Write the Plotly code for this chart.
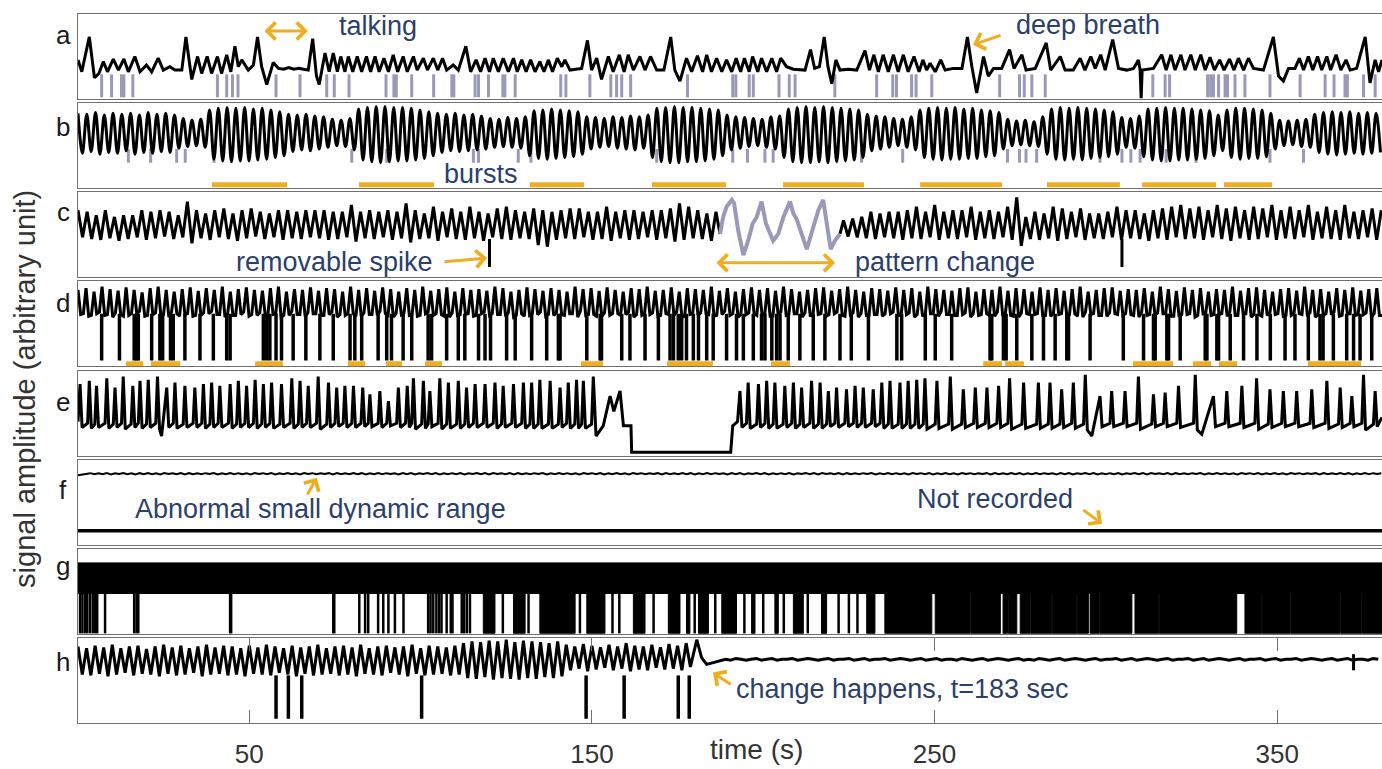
import plotly.graph_objects as go
from plotly.subplots import make_subplots

FONT = "Liberation Sans, Arial, sans-serif"
BLACK = "#000000"
LAVENDER = "#9a9ab8"
ORANGE = "#efae22"
NAVY = "#2c3f6c"
FRAME = "#707070"

XMAX = 380.6
TICKS = [50, 150, 250, 350]
PANEL_LABELS = ["a", "b", "c", "d", "e", "f", "g", "h"]
LABEL_POS = [0.75, 0.72, 0.77, 0.75, 0.63, 0.64, 0.80, 0.72]

# ---------------- panel a : (time, value) vertices ----------------
A_PTS = [
    (0, 46), (1.1, 32), (3.3, 73), (4.8, 25), (6.1, 30), (7.4, 44), (8.6, 32), (10.3, 47), (11.8, 34), (13.4, 47),
    (14.7, 32), (16.6, 50), (18.1, 32), (20.0, 40), (21.5, 32), (23.4, 48), (24.9, 34), (26.8, 38), (28.3, 34), (30.3, 34),
    (31.5, 73), (33.2, 23), (34.9, 50), (36.1, 30), (37.7, 50), (39.0, 30), (40.7, 50), (41.9, 30), (43.4, 52), (44.6, 32),
    (45.8, 62), (46.8, 38), (47.8, 46), (49.7, 34), (51.2, 40), (52.4, 73), (53.6, 38), (55.1, 17), (57.0, 43), (58.5, 36),
    (60.0, 35), (61.5, 37), (63.0, 35), (64.5, 36), (65.8, 35), (67.2, 34), (68.5, 71), (69.6, 27), (70.4, 17), (72.1, 54),
    (73.3, 32), (74.5, 54), (75.7, 32), (76.7, 50), (77.9, 32), (78.9, 50), (80.2, 32), (81.5, 50), (82.8, 32), (84.2, 50),
    (85.4, 32), (86.7, 50), (87.9, 32), (89.3, 48), (90.6, 32), (92.0, 52), (93.3, 32), (94.9, 50), (96.1, 32), (97.9, 50),
    (99.0, 34), (100.8, 48), (102.0, 34), (103.7, 48), (105.0, 34), (106.4, 48), (107.6, 34), (109.5, 40), (111.0, 34), (113.2, 62),
    (114.6, 32), (116.2, 46), (117.5, 32), (118.8, 48), (120.1, 32), (121.2, 48), (122.7, 32), (124.1, 48), (125.6, 32), (127.1, 48),
    (128.2, 32), (129.5, 46), (130.8, 32), (132.1, 46), (133.4, 32), (134.8, 44), (136.0, 32), (137.3, 46), (138.5, 32), (139.9, 48),
    (141.2, 38), (142.1, 46), (143.6, 34), (147.0, 36), (148.7, 69), (149.9, 34), (151.4, 48), (152.8, 23), (154.8, 50), (156.2, 32),
    (158.0, 52), (159.4, 32), (160.6, 52), (162.1, 34), (164.0, 50), (165.5, 34), (167.1, 50), (168.9, 34), (171.0, 34), (173.0, 73),
    (174.2, 34), (175.7, 21), (177.6, 48), (179.1, 32), (180.8, 51), (182.3, 32), (183.5, 52), (184.9, 32), (186.4, 48), (187.9, 32),
    (189.3, 46), (190.8, 32), (192.1, 48), (193.4, 32), (194.5, 48), (195.9, 32), (196.9, 50), (198.4, 32), (199.5, 48), (201.0, 32),
    (202.5, 48), (203.9, 32), (205.1, 48), (206.8, 38), (208.8, 35), (210.7, 34), (212.2, 34), (213.8, 58), (215.0, 36), (216.4, 38),
    (217.8, 73), (218.9, 38), (220.0, 18), (221.2, 46), (222.4, 34), (224.8, 35), (227.3, 34), (229.7, 57), (231.0, 34), (232.3, 52),
    (233.6, 32), (235.0, 52), (236.5, 32), (238.0, 52), (239.4, 32), (240.9, 52), (242.3, 32), (244.0, 50), (245.5, 32), (246.6, 46),
    (247.7, 34), (248.7, 42), (250.2, 32), (251.8, 46), (253.1, 34), (255.5, 36), (258.0, 36), (259.6, 73), (260.9, 38), (262.3, 7),
    (264.3, 50), (265.7, 27), (267.2, 36), (269.6, 36), (271.9, 58), (273.2, 36), (275.5, 52), (276.7, 34), (279.4, 36), (282.6, 66),
    (283.9, 34), (286.7, 50), (288.1, 34), (290.5, 34), (292.5, 48), (293.9, 34), (295.6, 50), (296.9, 36), (298.5, 52), (299.8, 34),
    (302.0, 70), (303.7, 36), (306.1, 34), (308.1, 36), (309.5, 46), (310.0, 34), (310.3, 1), (310.6, 34), (313.9, 36), (316.3, 52),
    (317.6, 34), (319.0, 52), (320.2, 34), (321.9, 52), (323.1, 34), (324.8, 52), (326.1, 34), (327.7, 52), (329.0, 34), (330.4, 49),
    (331.7, 34), (333.2, 46), (334.5, 34), (336.1, 47), (337.4, 34), (338.7, 48), (340.2, 34), (341.6, 48), (343.1, 36), (346.0, 34),
    (348.9, 73), (350.4, 27), (351.8, 21), (353.3, 36), (355.2, 36), (356.5, 48), (357.7, 34), (359.1, 50), (360.4, 34), (361.8, 50),
    (363.0, 34), (364.5, 50), (365.6, 34), (367.2, 52), (368.6, 34), (370.1, 46), (371.3, 34), (373.2, 36), (375.7, 73), (377.1, 19),
    (378.6, 46), (379.6, 32), (380.6, 46),
]
A_GRAY_T = [6.9, 9.8, 12.7, 13.4, 16.0, 40.7, 43.4, 45.1, 46.7, 57.8, 64.8, 72.6, 74.8, 79.1, 89.9, 92.2, 92.9, 97.4,
            103.8, 109.1, 109.7, 115.9, 116.9, 119.8, 124.0, 124.6, 127.6, 140.9, 142.4, 149.4, 155.5, 157.2, 158.7,
            161.3, 177.9, 191.1, 192.0, 195.9, 197.1, 204.6, 207.6, 209.3, 220.9, 233.1, 237.8, 238.9, 243.3, 244.6,
            249.2, 269.0, 274.8, 276.2, 278.4, 282.3, 313.7, 317.3, 318.6, 329.7, 330.6, 331.4, 332.9, 334.8, 335.5,
            337.7, 340.6, 347.9, 356.7, 364.0, 366.6, 369.8, 370.5, 375.2, 378.6]
A_GRAY_RANGE = (29, 2)

# ---------------- panel b : alternating peak / trough every B_HALF s ----------------
B_HALF = 1.28
B_V = [
    88, 41, 87, 43, 89, 40, 86, 42, 88, 41, 87, 44, 88, 40, 86, 42, 89, 41, 87, 43, 88, 42, 86,
    47, 82, 49, 80, 50, 81, 48,
    92, 34, 94, 32, 95, 31, 94, 32, 95, 32, 93, 33, 94, 34, 92, 36, 90, 38,
    87, 43, 86, 45, 87, 44, 85, 46, 84,
    48, 81, 50, 80, 49, 82, 45,
    93, 33, 95, 31, 96, 30, 96, 31, 95, 32, 95, 32, 94, 33, 92, 35, 90, 38,
    88, 42, 87, 44, 88, 43, 86, 44, 87, 45, 85, 46,
    82, 48, 81, 49, 83, 48, 82, 47, 84,
    38, 91, 35, 92, 34, 93, 35, 92, 36, 91, 37, 90, 40,
    84, 46, 83, 48, 82, 49, 84, 47, 83, 46, 85, 45, 84, 47, 86,
    36, 94, 31, 95, 30, 96, 30, 95, 31, 95, 31, 94, 32, 93, 34, 92, 38,
    86, 45, 84, 47, 83, 49, 82, 50, 81, 48, 84, 46, 85,
    36, 93, 31, 95, 30, 96, 30, 95, 31, 96, 30, 95, 31, 94, 32, 93, 33, 92, 36,
    87, 44, 85, 46, 84, 48, 82, 50, 81, 48, 84, 45,
    92, 36, 94, 34, 95, 33, 94, 34, 95, 34, 93, 35, 94, 35, 92, 37, 91, 38, 89,
    46, 81, 50, 79, 51, 80, 50, 78, 49, 84,
    40, 93, 34, 95, 33, 94, 34, 95, 33, 94, 35, 93, 36, 92, 37, 90, 40,
    83, 48, 82, 47, 85,
    37, 93, 33, 94, 32, 95, 32, 94, 33, 94, 33, 93, 34, 92, 35, 91, 38,
    86, 44,
    92, 36, 94, 34, 94, 35, 93, 35, 92, 37, 88,
    46, 80, 50, 79, 51, 80, 49, 81, 48,
    87, 42, 89, 40, 90, 39, 89, 40, 90, 41, 88, 40, 89, 41, 88, 42,
]
B_GRAY_T = [14.7, 21.2, 28.8, 31.3, 39.7, 79.9, 90.1, 115.4, 116.9, 128.5, 132.2, 168.9, 191.1, 195.4, 200.5,
            202.9, 228.7, 240.7, 271.3, 274.8, 276.7, 279.8, 298.3, 304.7, 307.3, 310.0, 317.6, 326.3, 347.9, 357.7]
B_GRAY_RANGE = (46, 30)
B_BURSTS = [(39.1, 61.0), (82.0, 103.9), (131.9, 147.7), (167.5, 189.1), (205.8, 229.4),
            (245.8, 269.7), (282.8, 304.1), (310.6, 332.2), (334.5, 348.5)]
B_BURST_LEVEL = 4

# ---------------- panel c ----------------
C_HALF = 1.33
C1_PEAK = [79, 77, 73, 79, 71, 73, 73, 79, 77, 79, 77, 73, 89, 79, 75, 79, 81, 75, 79, 81, 77, 75, 79, 79, 77, 79,
           79, 79, 77, 77, 85, 77, 79, 77, 79, 77, 87, 79, 75, 83, 77, 81,
           77, 83, 77, 75, 81, 83, 79, 77, 81, 79, 77, 79, 81, 81, 77, 77, 83, 77, 79, 79, 77, 79, 79, 81, 87, 83,
           79, 75, 77]
C1_TROUGH = [47, 45, 44, 46, 43, 45, 47, 44, 46, 48, 45, 47, 40, 46, 44, 47, 45, 43, 46, 48, 45, 47, 44, 46, 45, 47,
             46, 44, 45, 47, 42, 46, 45, 47, 44, 46, 41, 45, 46, 43, 47,
             45, 44, 46, 43, 47, 45, 44, 46, 45, 38, 36, 44, 46, 45, 47, 44, 45, 43, 46, 44, 45, 47, 44, 46, 42, 44,
             46, 45, 43]
C2_START = 168
C2_PEAK = [67, 69, 71, 77, 75, 77, 77, 79, 83,
           77, 85, 77, 79, 79, 83, 77, 79, 77, 83,
           94, 71, 77, 75, 83, 81, 77, 81, 75, 75,
           77, 83, 79, 79, 75, 79, 81, 83, 85, 81,
           83, 79, 85, 81, 83, 79, 83, 81, 85, 79,
           83, 79, 85, 77, 83, 79, 85, 77, 79, 81, 79]
C2_TROUGH = [48, 47, 46, 45, 47, 46, 44, 46, 45,
             47, 44, 46, 45, 47, 44, 46, 45, 47,
             44, 37, 45, 44, 46, 43, 45, 47, 44,
             46, 45, 47, 44, 46, 45, 43, 46, 44,
             47, 45, 46, 44, 47, 45, 43, 46, 44,
             45, 47, 44, 46, 45, 47, 44, 46, 45,
             44, 46, 45, 47, 44]
C_GRAY_PTS = [(187.4, 51), (188.3, 71), (189.3, 83), (190.8, 91), (191.5, 87), (192.7, 55), (194.2, 26), (195.6, 43),
              (196.9, 63), (198.1, 71), (199.5, 89), (200.8, 63), (202.9, 43), (204.4, 51), (205.9, 71), (207.8, 89),
              (208.8, 75), (209.7, 69), (211.2, 51), (212.7, 33), (214.6, 59), (216.1, 79), (217.5, 91), (218.5, 63),
              (219.7, 33), (220.9, 43), (222.4, 51)]
C_SPIKES = [120.1, 304.7]
C_SPIKE_RANGE = (45, 12)

# ---------------- panel d : peak, post-peak low, pre-rise low every D_STEP s ----------------
D_STEP = 0.78
D_PEAK = [90, 92, 88, 94, 91, 89, 93, 90, 87, 92, 94, 90, 88, 91, 93, 89, 92, 90, 94, 88,
          91, 93, 90, 89, 92, 94, 88, 91, 90, 93, 89, 92, 91, 88, 94, 90, 92, 89, 93, 91,
          88, 92, 90, 94, 89, 91, 93, 88, 92, 90, 91, 89, 94, 92, 88, 90, 93, 91, 89, 92,
          90, 88, 94, 91, 92, 89, 93, 90, 88, 92, 91, 94, 89, 90, 93, 88, 92, 91, 90, 94,
          89, 92, 88, 91, 93, 90, 92, 89, 94, 91, 88, 90, 92, 93, 89, 91, 94, 90, 88, 92,
          91, 89, 93, 90, 92, 88, 94, 91, 90, 89, 92, 93, 88, 91, 90, 94, 89, 92, 91, 88,
          93, 90, 92, 89, 91, 94, 88, 90, 92, 93, 89, 91, 90, 92, 88, 94, 91, 89, 93, 90,
          92, 88, 91, 90, 94, 89, 92, 93, 90, 88, 91, 92, 89, 94, 90, 91, 88, 92, 90, 93,
          89, 91, 92]
D_LOW = [61, 59, 62, 60, 58, 61, 60, 62, 59, 61, 60, 58, 62, 61, 59, 60, 62, 61, 58, 60,
         61, 59, 60, 62, 61, 58, 60, 61, 59, 62, 60, 61, 58, 60, 62, 59, 61, 60, 62, 58,
         61, 60, 59, 62, 60, 61, 58, 60, 61, 59, 62, 60, 61, 59, 58, 62, 60, 61, 59, 60,
         61, 62, 58, 60, 61, 59, 60, 62, 61, 58, 60, 61, 59, 62, 60, 58, 61, 60, 62, 59,
         61, 60, 58, 61, 62, 60, 59, 61, 60, 62, 58, 60, 61, 59, 62, 60, 61, 58, 60, 61,
         59, 62, 60, 61, 58, 60, 62, 59, 61, 60, 61, 58, 60, 62, 59, 61, 60, 58, 62, 61,
         60, 59, 61, 60, 62, 58, 61, 60, 59, 62, 60, 61, 58, 60, 61, 62, 59, 60, 61, 58,
         62, 60, 61, 59, 60, 62, 58, 61, 60, 61, 59, 60, 62, 61, 58, 60, 61, 59, 62, 60,
         61, 58, 60]
D_TROUGH = [62, 60, 64, 61, 63, 59, 62, 65, 60, 63, 61, 64, 59, 62, 60, 63, 65, 61, 62, 60,
            64, 61, 63, 59, 62, 60, 65, 61, 63, 62, 60, 64, 61, 62, 59, 63, 61, 65, 60, 62,
            63, 61, 60, 64, 62, 59, 63, 61, 62, 60, 64, 62, 61, 63, 60, 59, 62, 64, 61, 63,
            60, 62, 65, 61, 59, 63, 62, 60, 64, 61, 62, 63, 60, 61, 64, 59, 62, 63, 61, 60,
            65, 62, 61, 63, 60, 62, 59, 64, 61, 62, 63, 60, 62, 61, 64, 59, 63, 62, 60, 61,
            62, 64, 60, 63, 61, 59, 62, 65, 61, 60, 63, 62, 61, 60, 64, 62, 59, 63, 61, 62,
            60, 63, 62, 61, 59, 64, 62, 60, 63, 61, 62, 60, 64, 61, 63, 62, 59, 61, 62, 60,
            63, 61, 62, 64, 60, 62, 61, 59, 63, 62, 60, 62, 61, 63, 61, 62, 64, 60, 62, 61,
            63, 62, 60]
D_SPIKES = [6.9, 12.1, 16.4, 17.1, 17.6, 21.5, 23.9, 24.7, 27.0, 27.8, 31.2, 35.6, 39.5, 43.4, 44.4, 54.1, 55.1,
            56.0, 57.8, 59.4, 62.8, 66.5, 70.6, 74.5, 79.4, 80.8, 82.8, 87.6, 90.1, 91.5, 94.9, 97.4, 102.2, 103.2,
            107.6, 111.0, 112.9, 116.9, 118.8, 120.4, 125.1, 127.6, 132.4, 136.8, 140.2, 140.7, 148.5, 152.4, 152.8,
            158.7, 161.1, 165.5, 169.4, 172.8, 173.8, 175.2, 176.2, 177.6, 179.6, 181.1, 183.5, 185.4, 189.3, 192.2,
            194.2, 197.1, 199.5, 200.5, 202.5, 203.9, 204.9, 207.3, 210.7, 214.6, 218.0, 222.4, 225.7, 230.7, 239.0,
            240.4, 247.3, 250.2, 255.0, 266.2, 266.7, 270.1, 270.9, 274.0, 278.4, 281.8, 285.2, 288.6, 289.1, 295.4,
            305.1, 311.0, 313.9, 314.4, 317.8, 318.3, 321.7, 329.0, 329.5, 332.4, 332.9, 336.3, 340.2, 344.1, 348.0,
            352.3, 355.2, 359.1, 362.5, 363.4, 366.4, 370.3, 372.3, 374.2, 377.6]
D_SPIKE_RANGE = (62, 7)
D_MARKS = [(14.0, 19.0), (21.3, 29.8), (51.7, 59.8), (78.8, 83.8), (89.9, 94.6), (101.3, 106.2), (146.8, 153.2),
           (171.9, 185.3), (202.3, 207.8), (264.2, 269.7), (270.6, 276.1), (307.9, 319.6), (325.4, 330.7),
           (333.0, 338.3), (359.0, 374.5)]
D_MARK_LEVEL = 3

# ---------------- panel e : (time, value) vertices ----------------
E_PTS = [
    (0, 40), (0.6, 84), (1.2, 33), (2.8, 38), (3.3, 88), (3.9, 32), (4.9, 37), (5.4, 82), (6.0, 33), (7.9, 38),
    (8.4, 91), (9.0, 32), (10.3, 37), (10.8, 80), (11.4, 33), (12.7, 38), (13.2, 93), (13.8, 31), (15.5, 37),
    (16.0, 82), (16.6, 33), (17.6, 38), (18.1, 88), (18.7, 32), (20.0, 37), (20.5, 89), (21.1, 33), (22.7, 38),
    (23.2, 93), (23.8, 31), (24.4, 23), (25.9, 80), (26.5, 33), (27.8, 38), (28.3, 86), (28.9, 32), (30.7, 37),
    (31.2, 82), (31.8, 33), (33.6, 38), (34.1, 80), (34.7, 33), (36.1, 38), (36.6, 84), (37.2, 32), (38.5, 37),
    (39.0, 86), (39.6, 33), (40.9, 38), (41.4, 82), (42.0, 33), (43.9, 38), (44.4, 84), (45.0, 32), (46.3, 37),
    (46.8, 88), (47.4, 33), (48.7, 38), (49.2, 82), (49.8, 33), (51.2, 38), (51.7, 89), (52.3, 32), (53.6, 37),
    (54.1, 84), (54.7, 33), (56.0, 38), (56.5, 86), (57.1, 32), (58.9, 37), (59.4, 84), (60.0, 33), (61.9, 38),
    (62.4, 91), (63.0, 32), (64.3, 37), (64.8, 88), (65.4, 33), (66.7, 38), (67.2, 82), (67.8, 33), (69.6, 38),
    (70.1, 93), (70.7, 31), (72.6, 37), (73.1, 86), (73.7, 33), (75.0, 38), (75.5, 80), (76.1, 34), (77.4, 38),
    (77.9, 82), (78.5, 33), (79.9, 38), (80.4, 82), (81.0, 33), (82.6, 38), (83.1, 80), (83.7, 34), (84.7, 38),
    (85.2, 72), (85.8, 34), (87.6, 38), (88.1, 76), (88.7, 33), (90.1, 38), (90.6, 64), (91.2, 35), (93.0, 38),
    (93.5, 80), (94.1, 33), (95.6, 38), (96.1, 82), (96.7, 33), (97.4, 38), (97.9, 91), (98.5, 31), (100.3, 37),
    (100.8, 88), (101.4, 32), (102.2, 37), (102.7, 76), (103.3, 34), (105.1, 38), (105.6, 91), (106.2, 31), (107.6, 37),
    (108.1, 86), (108.7, 32), (110.5, 37), (111.0, 88), (111.6, 32), (112.9, 37), (113.4, 80), (114.0, 33), (115.4, 38),
    (115.9, 84), (116.5, 33), (118.3, 38), (118.8, 84), (119.4, 33), (121.2, 38), (121.7, 86), (122.3, 32), (123.6, 37),
    (124.1, 82), (124.7, 33), (126.6, 38), (127.1, 84), (127.7, 33), (129.5, 38), (130.0, 86), (130.6, 32), (131.9, 37),
    (132.4, 86), (133.0, 32), (134.3, 37), (134.8, 89), (135.4, 32), (137.3, 37), (137.8, 88), (138.4, 32), (140.2, 37),
    (140.7, 80), (141.3, 33), (142.6, 38), (143.1, 86), (143.7, 32), (145.0, 37), (145.5, 89), (146.1, 32), (147.0, 37),
    (147.5, 88), (148.1, 32), (149.9, 37), (150.4, 93), (151.2, 23), (153.3, 35), (155.3, 70), (156.4, 52),
    (158.2, 76), (159.2, 35), (161.4, 35), (161.6, 4), (190.5, 4), (191.1, 35), (192.5, 40),
    (193.2, 76), (193.8, 33), (195.1, 38), (195.6, 86), (196.2, 32), (198.1, 37), (198.6, 84), (199.2, 33), (200.5, 38),
    (201.0, 88), (201.6, 32), (202.9, 37), (203.4, 86), (204.0, 32), (205.8, 37), (206.3, 82), (206.9, 33), (208.3, 38),
    (208.8, 86), (209.4, 32), (210.7, 37), (211.2, 80), (211.8, 33), (213.6, 38), (214.1, 88), (214.7, 32), (216.1, 37),
    (216.6, 86), (217.2, 32), (218.5, 37), (219.0, 76), (219.6, 34), (220.9, 38), (221.4, 80), (222.0, 33), (223.8, 38),
    (224.3, 78), (224.9, 34), (226.3, 38), (226.8, 82), (227.4, 33), (228.7, 38), (229.2, 80), (229.8, 33), (231.6, 38),
    (232.1, 78), (232.7, 34), (234.1, 38), (234.6, 86), (235.2, 32), (236.5, 37), (237.0, 88), (237.6, 32), (239.4, 37),
    (239.9, 86), (240.5, 32), (241.8, 37), (242.3, 88), (242.9, 32), (244.3, 37), (244.8, 89), (245.4, 32), (246.7, 37),
    (247.2, 91), (247.8, 31), (250.2, 37), (250.7, 88), (251.3, 32), (254.1, 37), (254.6, 93), (255.2, 31), (257.9, 37),
    (258.4, 78), (259.0, 33), (261.4, 38), (261.9, 80), (262.5, 33), (264.8, 38), (265.3, 80), (265.9, 33), (268.2, 38),
    (268.7, 82), (269.3, 33), (271.4, 38), (271.9, 91), (272.5, 31), (275.5, 37), (276.0, 86), (276.6, 32), (279.8, 37),
    (280.3, 86), (280.9, 32), (283.2, 37), (283.7, 86), (284.3, 32), (286.6, 37), (287.1, 78), (287.7, 33), (290.0, 38),
    (290.5, 86), (291.1, 32), (293.5, 37), (294.0, 95), (294.6, 30), (295.9, 23), (298.3, 70), (298.9, 34), (301.2, 38),
    (301.7, 76), (302.3, 34), (305.1, 38), (305.6, 76), (306.2, 34), (309.0, 38), (309.5, 93), (310.1, 31), (313.4, 37),
    (313.9, 72), (314.5, 34), (316.8, 38), (317.3, 74), (317.9, 34), (320.7, 38), (321.2, 82), (321.8, 33), (325.6, 38),
    (326.1, 95), (326.7, 30), (328.0, 25), (331.4, 70), (332.0, 34), (334.8, 38), (335.3, 76), (335.9, 34), (339.2, 38),
    (339.7, 82), (340.3, 33), (343.5, 38), (344.0, 91), (344.6, 31), (347.4, 37), (347.9, 78), (348.5, 33), (351.3, 38),
    (351.8, 76), (352.4, 34), (355.2, 38), (355.7, 76), (356.3, 34), (359.6, 38), (360.1, 78), (360.7, 33), (364.0, 38),
    (364.5, 88), (365.1, 32), (367.9, 37), (368.4, 80), (369.0, 33), (371.3, 38), (371.8, 70), (372.4, 34), (374.7, 38),
    (375.2, 95), (375.8, 30), (378.1, 37), (378.6, 76), (379.2, 34), (380.6, 45),
]

# ---------------- panel f ----------------
F_DT = 1.2
F_TOP = [
    81.6, 82.5, 83.6, 84.2, 82.9, 84.1, 83.0, 84.4, 82.8, 84.0, 83.1, 84.3, 82.9, 84.1, 82.7, 84.2, 83.0, 84.4, 82.9, 84.1,
    82.8, 84.3, 83.1, 84.0, 82.9, 84.4, 82.7, 84.2, 83.0, 84.1, 82.9, 84.2, 83.1, 84.3, 82.8, 84.0, 83.0, 84.4, 82.9, 84.2,
    83.0, 84.1, 82.8, 84.3, 83.1, 84.2, 82.9, 84.4, 82.7, 84.1, 82.9, 84.3, 83.0, 84.1, 82.8, 84.4, 83.1, 84.2, 82.9, 84.0,
    83.1, 84.2, 82.7, 84.3, 83.0, 84.1, 82.9, 84.4, 83.0, 84.2, 82.8, 84.1, 83.0, 84.3, 82.9, 84.2, 83.1, 84.0, 82.8, 84.3,
    83.0, 84.3, 82.8, 84.1, 83.1, 84.4, 82.9, 84.2, 82.7, 84.0, 82.9, 84.2, 83.0, 84.4, 82.8, 84.1, 83.1, 84.3, 82.9, 84.2,
    82.8, 84.3, 83.1, 84.0, 82.9, 84.4, 82.7, 84.2, 83.0, 84.1, 82.9, 84.2, 83.1, 84.3, 82.8, 84.0, 83.0, 84.4, 82.9, 84.2,
    83.0, 84.1, 82.8, 84.3, 83.1, 84.2, 82.9, 84.4, 82.7, 84.1, 82.9, 84.3, 83.0, 84.1, 82.8, 84.4, 83.1, 84.2, 82.9, 84.0,
    83.1, 84.2, 82.7, 84.3, 83.0, 84.1, 82.9, 84.4, 83.0, 84.2, 82.8, 84.1, 83.0, 84.3, 82.9, 84.2, 83.1, 84.0, 82.8, 84.3,
    83.0, 84.3, 82.8, 84.1, 83.1, 84.4, 82.9, 84.2, 82.7, 84.0, 82.9, 84.2, 83.0, 84.4, 82.8, 84.1, 83.1, 84.3, 82.9, 84.2,
    82.8, 84.3, 83.1, 84.0, 82.9, 84.4, 82.7, 84.2, 83.0, 84.1, 82.9, 84.2, 83.1, 84.3, 82.8, 84.0, 83.0, 84.4, 82.9, 84.2,
    83.0, 84.1, 82.8, 84.3, 83.1, 84.2, 82.9, 84.4, 82.7, 84.1, 82.9, 84.3, 83.0, 84.1, 82.8, 84.4, 83.1, 84.2, 82.9, 84.0,
    83.1, 84.2, 82.7, 84.3, 83.0, 84.1, 82.9, 84.4, 83.0, 84.2, 82.8, 84.1, 83.0, 84.3, 82.9, 84.2, 83.1, 84.0, 82.8, 84.3,
    83.0, 84.3, 82.8, 84.1, 83.1, 84.4, 82.9, 84.2, 82.7, 84.0, 82.9, 84.2, 83.0, 84.4, 82.8, 84.1, 83.1, 84.3, 82.9, 84.2,
    82.8, 84.3, 83.1, 84.0, 82.9, 84.4, 82.7, 84.2, 83.0, 84.1, 82.9, 84.2, 83.1, 84.3, 82.8, 84.0, 83.0, 84.4, 82.9, 84.2,
    83.0, 84.1, 82.8, 84.3, 83.1, 84.2, 82.9, 84.4, 82.7, 84.1, 82.9, 84.3, 83.0, 84.1, 82.8, 84.4, 83.1, 84.2, 82.9, 84.0,
    83.1, 84.2, 82.7, 84.3, 83.0, 84.1, 82.9, 84.4, 83.0, 84.2, 82.8, 84.1, 83.0, 84.3, 82.9, 84.2, 83.1, 84.0,
]
F_BOTTOM = 16.5

# ---------------- panel g ----------------
G_BAND = (47.5, 83.5)
G_FLOOR = 0.5
G_SPIKES = [0.6, 1.3, 2.1, 2.7, 3.5, 4.3, 5.0, 5.6, 7.9, 16.4, 17.1, 17.6, 44.4, 44.7, 74.5, 74.8, 82.1, 83.8, 84.7,
            87.6, 89.1, 90.6, 92.5, 95.0, 102.2, 102.9, 103.7, 104.6, 105.4, 106.1, 107.6, 108.8, 109.3, 112.0, 112.7,
            113.5, 114.4, 124.0, 131.5, 146.5, 156.0, 158.0, 168.0, 180.0, 186.0, 194.5, 200.0, 206.0, 213.0, 222.0,
            225.0, 227.5]
G_BLOCKS = [(118.3, 121.7), (127.1, 130.5), (134.8, 145.1), (148.5, 153.8), (162.1, 165.5), (172.3, 175.7),
            (177.6, 178.6), (181.1, 184.0), (187.9, 192.2), (196.6, 197.6), (203.4, 204.4), (208.8, 211.7),
            (217.0, 218.5), (230.2, 232.6), (235.5, 249.2), (250.2, 260.4), (260.6, 269.2), (270.0, 271.3),
            (271.5, 274.0), (275.0, 277.9), (278.1, 284.2), (284.4, 291.5), (291.7, 294.9), (295.4, 298.1),
            (298.3, 307.6), (308.5, 315.4), (315.6, 338.2), (340.6, 345.5), (345.7, 353.8), (354.0, 368.4),
            (368.6, 374.7), (374.9, 380.6)]

# ---------------- panel h ----------------
H_HALF = 1.25
H_PEAK = [90, 88, 91, 89, 92, 88, 90, 91, 87, 90, 92, 89, 91, 88, 90, 92, 89, 91, 90, 88,
          91, 89, 92, 90, 88, 91, 89, 90, 92, 88, 90, 91, 89, 92, 88, 90, 91, 89, 90, 92,
          88, 91, 90, 89, 91,
          94, 96, 95, 97, 96, 98, 95, 97, 96, 95, 94, 96,
          92, 90, 93, 91, 89, 92, 90, 94, 91, 90, 92, 89, 93, 91, 94]
H_TROUGH = [57, 56, 58, 55, 57, 59, 56, 58, 57, 55, 58, 56, 57, 59, 55, 57, 58, 56, 57, 55,
            58, 57, 56, 59, 57, 55, 58, 56, 57, 58, 56, 57, 55, 58, 57, 56, 59, 57, 55, 58,
            56, 57, 58, 56, 57,
            53, 52, 54, 51, 53, 52, 51, 53, 52, 54, 53, 55,
            62, 64, 61, 63, 65, 62, 64, 61, 63, 62, 65, 63, 64, 62, 66]
H_CHANGE_PTS = [(180.6, 98), (182.0, 77), (183.5, 69), (185.4, 71), (187.4, 74)]
H_TAIL_T0 = 189.0
H_TAIL_DT = 1.5
H_TAIL = [
    75, 74, 76, 75, 74, 75, 76, 74, 75, 76, 74, 75, 75, 76, 74, 75, 76, 75, 74, 75,
    76, 74, 75, 75, 76, 74, 75, 76, 74, 75, 75, 76, 74, 75, 76, 75, 74, 75, 76, 74,
    75, 76, 74, 75, 75, 74, 76, 75, 74, 75, 76, 74, 75, 76, 75, 74, 75, 76, 74, 75,
    74, 76, 75, 74, 75, 76, 74, 75, 76, 75, 74, 75, 76, 74, 75, 75, 76, 74, 75, 76,
    74, 75, 76, 75, 74, 75, 76, 74, 75, 75, 76, 74, 75, 76, 74, 75, 76, 75, 74, 75,
    76, 74, 75, 75, 76, 74, 75, 76, 74, 75, 75, 76, 74, 75, 76, 75, 74, 75, 76, 74,
    75, 76, 74, 75, 75, 74, 76, 75,
]
H_SPIKES = [57.8, 61.4, 65.3, 100.3, 148.3, 159.4, 175.2, 178.4]
H_SPIKE_RANGE = (56, 5)
H_SMALL_SPIKE = (372.3, 81, 62)


# ---------------- helpers ----------------
def unzip(pts):
    return [p[0] for p in pts], [p[1] for p in pts]


def zigzag(peaks, troughs, half, start=0):
    xs, ys = [], []
    for k, p in enumerate(peaks):
        xs.append(round((start + 2 * k) * half, 3))
        ys.append(p)
        if k < len(troughs):
            xs.append(round((start + 2 * k + 1) * half, 3))
            ys.append(troughs[k])
    return xs, ys


def triple(peaks, lows, troughs, step):
    xs, ys = [], []
    for k in range(len(peaks)):
        for j, arr in enumerate((peaks, lows, troughs)):
            if k < len(arr):
                xs.append(round((3 * k + j) * step, 3))
                ys.append(arr[k])
    return xs, ys


def vlines(ts, y0, y1):
    xs, ys = [], []
    for t in ts:
        xs += [t, t, None]
        ys += [y0, y1, None]
    return xs, ys


def hbars(spans, level):
    xs, ys = [], []
    for t0, t1 in spans:
        xs += [t0, t1, None]
        ys += [level, level, None]
    return xs, ys


def blocks(spans, y0, y1):
    xs, ys = [], []
    for t0, t1 in spans:
        xs += [t0, t1, t1, t0, t0, None]
        ys += [y0, y0, y1, y1, y0, None]
    return xs, ys


def line(x, y, row, color=BLACK, width=3, shape="linear"):
    fig.add_trace(go.Scatter(x=x, y=y, mode="lines", line=dict(color=color, width=width, shape=shape),
                             hoverinfo="skip", showlegend=False), row=row, col=1)


fig = make_subplots(rows=8, cols=1, shared_xaxes=True, vertical_spacing=0.005874)

# a
gx, gy = vlines(A_GRAY_T, *A_GRAY_RANGE)
line(gx, gy, 1, LAVENDER, 3)
ax_, ay_ = unzip(A_PTS)
line(ax_, ay_, 1, BLACK, 3)

# b
gx, gy = vlines(B_GRAY_T, *B_GRAY_RANGE)
line(gx, gy, 2, LAVENDER, 3)
bx = [round(i * B_HALF, 3) for i in range(len(B_V))]
line(bx, B_V, 2, BLACK, 3, "spline")
ox, oy = hbars(B_BURSTS, B_BURST_LEVEL)
line(ox, oy, 2, ORANGE, 5)

# c
cgx, cgy = unzip(C_GRAY_PTS)
c1x, c1y = zigzag(C1_PEAK, C1_TROUGH, C_HALF)
line(c1x + cgx[:1], c1y + cgy[:1], 3, BLACK, 3)
c2x, c2y = zigzag(C2_PEAK, C2_TROUGH, C_HALF, C2_START)
line(cgx[-1:] + c2x, cgy[-1:] + c2y, 3, BLACK, 3)
line(cgx, cgy, 3, LAVENDER, 4)
sx, sy = vlines(C_SPIKES, *C_SPIKE_RANGE)
line(sx, sy, 3, BLACK, 3)

# d
sx, sy = vlines(D_SPIKES, *D_SPIKE_RANGE)
line(sx, sy, 4, BLACK, 3.5)
dx, dy = triple(D_PEAK, D_LOW, D_TROUGH, D_STEP)
line(dx, dy, 4, BLACK, 3)
ox, oy = hbars(D_MARKS, D_MARK_LEVEL)
line(ox, oy, 4, ORANGE, 5)

# e
ex, ey = unzip(E_PTS)
line(ex, ey, 5, BLACK, 3)

# f
fx = [round(i * F_DT, 3) for i in range(len(F_TOP))]
line(fx, F_TOP, 6, BLACK, 2)
line([0, XMAX], [F_BOTTOM, F_BOTTOM], 6, BLACK, 3.5)

# g
bx_, by_ = blocks([(0, XMAX)], G_BAND[0], G_BAND[1])
fig.add_trace(go.Scatter(x=bx_, y=by_, mode="lines", fill="toself", fillcolor=BLACK,
                         line=dict(color=BLACK, width=1), hoverinfo="skip", showlegend=False), row=7, col=1)
kx, ky = blocks(G_BLOCKS, G_FLOOR, G_BAND[0])
fig.add_trace(go.Scatter(x=kx, y=ky, mode="lines", fill="toself", fillcolor=BLACK,
                         line=dict(color=BLACK, width=1), hoverinfo="skip", showlegend=False), row=7, col=1)
sx, sy = vlines(G_SPIKES, G_BAND[0], G_FLOOR)
line(sx, sy, 7, BLACK, 2.5)

# h
hx, hy = zigzag(H_PEAK, H_TROUGH, H_HALF)
chx, chy = unzip(H_CHANGE_PTS)
tx = [round(H_TAIL_T0 + i * H_TAIL_DT, 3) for i in range(len(H_TAIL))]
line(hx + chx + tx, hy + chy + H_TAIL, 8, BLACK, 3)
sx, sy = vlines(H_SPIKES, *H_SPIKE_RANGE)
line(sx, sy, 8, BLACK, 3.5)
line([H_SMALL_SPIKE[0]] * 2, [H_SMALL_SPIKE[1], H_SMALL_SPIKE[2]], 8, BLACK, 3)

# ---------------- axes ----------------
for r in range(1, 9):
    xa = dict(range=[0, XMAX], showgrid=False, zeroline=False, showline=True, linecolor=FRAME,
              linewidth=1, mirror=True, ticks="", showticklabels=False)
    if r == 8:
        xa.update(ticks="inside", ticklen=13, tickwidth=1, tickcolor=FRAME, mirror="ticks",
                  tickvals=TICKS, showticklabels=True, ticklabelstandoff=8,
                  tickfont=dict(size=26, color="#333333", family=FONT))
    fig.update_xaxes(row=r, col=1, **xa)
    fig.update_yaxes(row=r, col=1, range=[0, 100], showgrid=False, zeroline=False, showline=True,
                     linecolor=FRAME, linewidth=1, mirror=False, ticks="", showticklabels=False)

# ---------------- annotations ----------------
ann = []
for i, lab in enumerate(PANEL_LABELS):
    ann.append(dict(text=lab, xref="paper", x=-0.0115, yref=f"y{'' if i == 0 else i + 1} domain",
                    y=LABEL_POS[i], showarrow=False, xanchor="center", yanchor="middle",
                    font=dict(size=26, color="#1a1a1a", family=FONT)))


def txt(s, x, y, row, anchor="center"):
    yr = "y" if row == 1 else f"y{row}"
    xr = "x" if row == 1 else f"x{row}"
    ann.append(dict(text=s, x=x, y=y, xref=xr, yref=yr, showarrow=False, xanchor=anchor,
                    yanchor="middle", font=dict(size=27, color=NAVY, family=FONT)))


def arrow(x0, y0, x1, y1, row, both=False):
    yr = "y" if row == 1 else f"y{row}"
    xr = "x" if row == 1 else f"x{row}"
    d = dict(text="", x=x1, y=y1, ax=x0, ay=y0, xref=xr, yref=yr, axref=xr, ayref=yr,
             showarrow=True, arrowhead=4, arrowsize=1.1, arrowwidth=3, arrowcolor=ORANGE)
    if both:
        d.update(arrowside="end+start", startarrowhead=4, startarrowsize=1.1)
    ann.append(d)


txt("talking", 87.6, 86, 1)
arrow(54.0, 80, 67.1, 80, 1, both=True)
txt("deep breath", 294.8, 87, 1)
arrow(269.7, 75.5, 261.2, 63.8, 1)
txt("bursts", 117.6, 17, 2)
txt("removable spike", 75.0, 18, 3)
arrow(106.5, 18, 119.4, 22.8, 3)
txt("pattern change", 253.0, 18, 3)
arrow(185.9, 17, 221.0, 17, 3, both=True)
txt("Abnormal small dynamic range", 70.9, 42, 6)
arrow(66.7, 57.4, 69.7, 78.8, 6)
txt("Not recorded", 267.7, 54, 6)
arrow(293.0, 42.2, 298.9, 24.7, 6)
txt("change happens, t=183 sec", 240.7, 39.7, 8)
arrow(190.9, 44.3, 185.3, 59.5, 8)

ann.append(dict(text="time (s)", xref="paper", yref="paper", x=0.5207, y=-0.0378, showarrow=False,
                xanchor="center", yanchor="middle", font=dict(size=28, color="#333333", family=FONT)))
ann.append(dict(text="signal amplitude (arbitrary unit)", xref="paper", yref="paper", x=-0.0406, y=0.4713,
                showarrow=False, textangle=-90, xanchor="center", yanchor="middle",
                font=dict(size=29, color="#333333", family=FONT)))

fig.update_layout(width=1382, height=769, margin=dict(l=78, r=0, t=14, b=40),
                  paper_bgcolor="white", plot_bgcolor="white", showlegend=False,
                  annotations=ann, font=dict(family=FONT, color="#333333"))

fig.write_html("out.html")
